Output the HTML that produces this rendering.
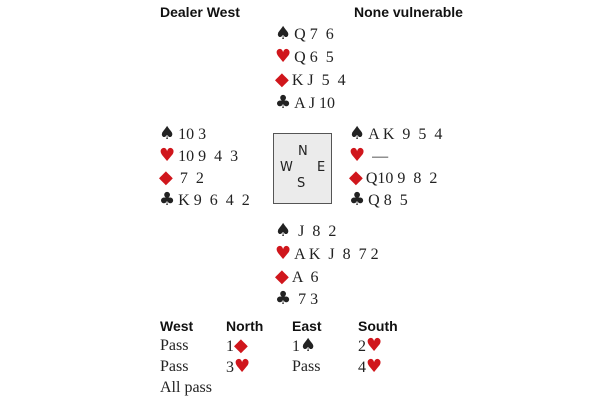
<!DOCTYPE html>
<html><head><meta charset="utf-8"><style>
body{margin:0;width:600px;height:400px;background:#fff;position:relative;overflow:hidden;font-family:"Liberation Serif",serif;color:#222}
.a{position:absolute;white-space:pre;font-size:16px;line-height:18px}
.b{position:absolute;font-family:"Liberation Sans",sans-serif;font-weight:bold;font-size:14px;line-height:16px;color:#111}
.s{font-family:"DejaVu Sans",sans-serif;font-size:18px;line-height:18px;margin-right:3px}
.r{color:#d0161c}
.box{position:absolute;left:273px;top:133px;width:57px;height:69px;border:1px solid #555;background:#ebebeb}
.c{position:absolute;font-family:"DejaVu Sans",sans-serif;font-size:13px;line-height:14px;color:#222}
</style></head><body>
<div class="b" style="left:160px;top:4px">Dealer West</div>
<div class="b" style="left:354px;top:4px">None vulnerable</div>

<div class="a" style="left:275px;top:25px"><span class="s">♠</span>Q 7  6</div>
<div class="a" style="left:275px;top:48px"><span class="s r">♥</span>Q 6  5</div>
<div class="a" style="left:275px;top:71px"><span class="s r">◆</span>K J  5  4</div>
<div class="a" style="left:275px;top:94px"><span class="s">♣</span>A J 10</div>

<div class="a" style="left:159px;top:125px"><span class="s">♠</span>10 3</div>
<div class="a" style="left:159px;top:147px"><span class="s r">♥</span>10 9  4  3</div>
<div class="a" style="left:159px;top:169px"><span class="s r">◆</span> 7  2</div>
<div class="a" style="left:159px;top:191px"><span class="s">♣</span>K 9  6  4  2</div>

<div class="box"></div>
<div class="c" style="left:298px;top:145px">N</div>
<div class="c" style="left:280px;top:161px">W</div>
<div class="c" style="left:317px;top:161px">E</div>
<div class="c" style="left:297px;top:177px">S</div>

<div class="a" style="left:349px;top:125px"><span class="s">♠</span>A K  9  5  4</div>
<div class="a" style="left:349px;top:147px"><span class="s r">♥</span> —</div>
<div class="a" style="left:349px;top:169px"><span class="s r">◆</span>Q10 9  8  2</div>
<div class="a" style="left:349px;top:191px"><span class="s">♣</span>Q 8  5</div>

<div class="a" style="left:275px;top:222px"><span class="s">♠</span> J  8  2</div>
<div class="a" style="left:275px;top:245px"><span class="s r">♥</span>A K  J  8  7 2</div>
<div class="a" style="left:275px;top:268px"><span class="s r">◆</span>A  6</div>
<div class="a" style="left:275px;top:290px"><span class="s">♣</span> 7 3</div>

<div class="b" style="left:160px;top:318px">West</div>
<div class="b" style="left:226px;top:318px">North</div>
<div class="b" style="left:292px;top:318px">East</div>
<div class="b" style="left:358px;top:318px">South</div>
<div class="a" style="left:160px;top:337px">Pass</div>
<div class="a" style="left:226px;top:337px">1<span class="s r">◆</span></div>
<div class="a" style="left:292px;top:337px">1<span class="s">♠</span></div>
<div class="a" style="left:358px;top:337px">2<span class="s r">♥</span></div>
<div class="a" style="left:160px;top:358px">Pass</div>
<div class="a" style="left:226px;top:358px">3<span class="s r">♥</span></div>
<div class="a" style="left:292px;top:358px">Pass</div>
<div class="a" style="left:358px;top:358px">4<span class="s r">♥</span></div>
<div class="a" style="left:160px;top:379px">All pass</div>
</body></html>
